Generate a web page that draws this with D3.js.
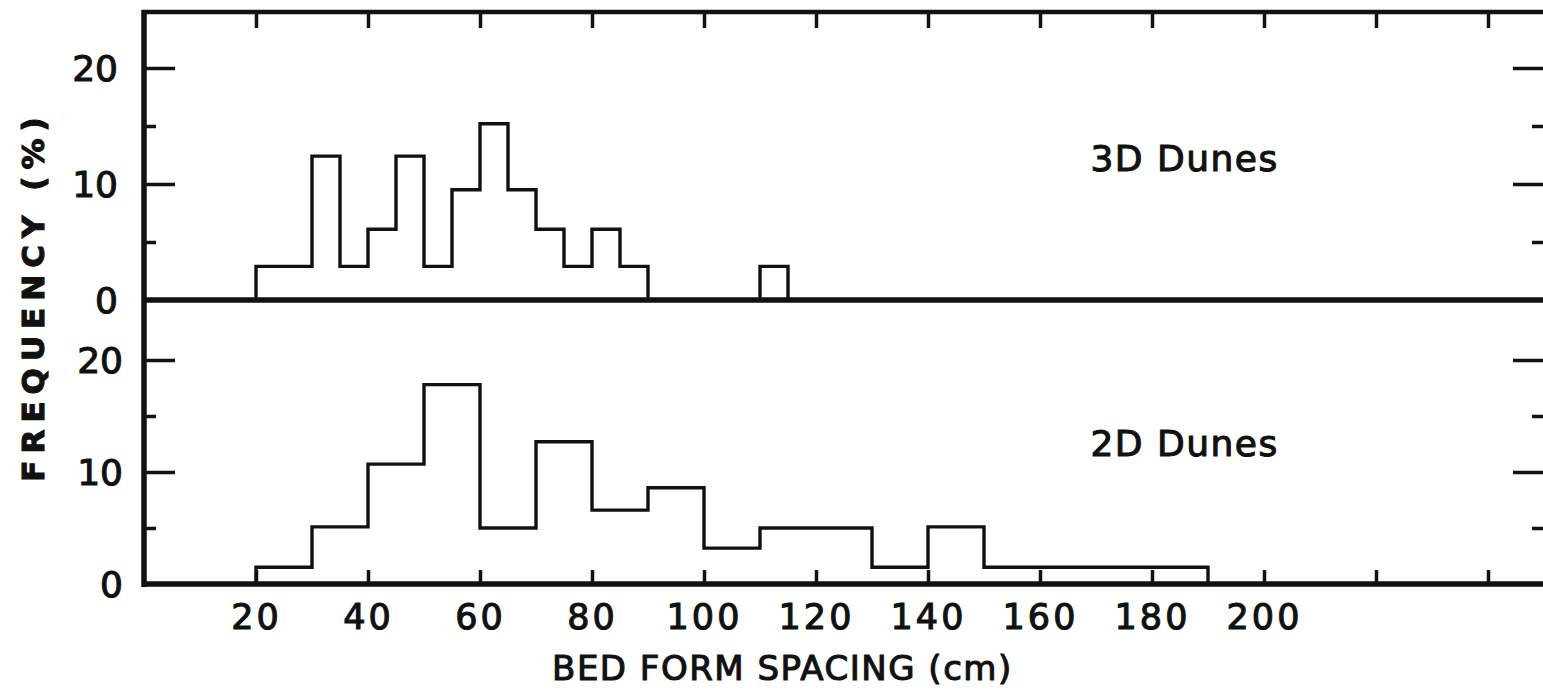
<!DOCTYPE html>
<html>
<head>
<meta charset="utf-8">
<script src="https://cdn.jsdelivr.net/npm/d3@7"></script>
<style>
  html, body { margin: 0; padding: 0; background: #fff; }
  svg { display: block; }
  text { font-family: "DejaVu Sans", sans-serif; fill: #111; stroke: #111; stroke-width: 1.1px; }
</style>
</head>
<body>
<svg id="chart" width="1543" height="700"></svg>
<script>
// ---- data ----
const xTickValues = [20, 40, 60, 80, 100, 120, 140, 160, 180, 200, 220, 240];
const xTickLabels = ["20", "40", "60", "80", "100", "120", "140", "160", "180", "200", "", ""];
const yMajorTicks = [0, 10, 20];
const yMinorTicks = [5, 15];

// 3D dunes: bin edges (cm) and frequency (%) per bin
const dunes3DEdges = [20, 30, 35, 40, 45, 50, 55, 60, 65, 70, 75, 80, 85, 90, 110, 115];
const dunes3DFreq  = [2.9, 12.4, 2.9, 6.1, 12.4, 2.9, 9.5, 15.2, 9.5, 6.1, 2.9, 6.1, 2.9, 0, 2.9];

// 2D dunes: bin edges (cm) and frequency (%) per bin
const dunes2DEdges = [20, 30, 40, 50, 60, 70, 80, 90, 100, 110, 130, 140, 150, 190];
const dunes2DFreq  = [1.5, 5.1, 10.7, 17.8, 5.0, 12.7, 6.6, 8.6, 3.2, 5.0, 1.5, 5.1, 1.5];

const panelLabels = ["3D Dunes", "2D Dunes"];
const xTitle = "BED FORM SPACING (cm)";
const yTitle = "FREQUENCY (%)";

// ---- layout ----
const svg = d3.select("#chart");
const ink = "#111";
const x = d3.scaleLinear().domain([0, 250]).range([144, 1544]);
const yTop = d3.scaleLinear().domain([0, 20]).range([300, 68]);
const yBot = d3.scaleLinear().domain([0, 20]).range([584, 360]);
const frameTop = 12, rightX = 1543;

// histogram outlines
function stepPoints(edges, vals) {
  const pts = [[edges[0], 0]];
  vals.forEach((v, i) => { pts.push([edges[i], v]); pts.push([edges[i + 1], v]); });
  pts.push([edges[edges.length - 1], 0]);
  return pts;
}
function drawHist(edges, vals, y) {
  const line = d3.line().x(d => x(d[0])).y(d => y(d[1]));
  svg.append("path").attr("d", line(stepPoints(edges, vals)))
    .attr("fill", "none").attr("stroke", ink).attr("stroke-width", 3.4)
    .attr("stroke-linejoin", "miter");
}
drawHist(dunes3DEdges, dunes3DFreq, yTop);
drawHist(dunes2DEdges, dunes2DFreq, yBot);

// frame lines
const frame = svg.append("g").attr("stroke", ink).attr("stroke-linecap", "butt");
frame.append("line").attr("x1", x(0) - 2).attr("x2", rightX).attr("y1", frameTop).attr("y2", frameTop).attr("stroke-width", 4.5);
frame.append("line").attr("x1", x(0)).attr("x2", x(0)).attr("y1", frameTop - 2).attr("y2", yBot(0) + 3).attr("stroke-width", 5.5);
frame.append("line").attr("x1", x(0) - 2).attr("x2", rightX).attr("y1", yTop(0)).attr("y2", yTop(0)).attr("stroke-width", 5.5);
frame.append("line").attr("x1", x(0) - 2).attr("x2", rightX).attr("y1", yBot(0)).attr("y2", yBot(0)).attr("stroke-width", 5.5);

function styleAxis(g, w) {
  g.select(".domain").remove();
  g.selectAll(".tick line").attr("stroke", ink).attr("stroke-width", w);
}

// left y axes
[yTop, yBot].forEach((y, i) => {
  const gMaj = svg.append("g").attr("transform", `translate(${x(0)},0)`)
    .call(d3.axisLeft(y).tickValues(yMajorTicks).tickSizeInner(-31).tickSizeOuter(0).tickPadding(i === 0 ? 26 : 21).tickFormat(d3.format("d")));
  styleAxis(gMaj, 3.5);
  gMaj.selectAll(".tick text").attr("font-size", 36).attr("fill", ink).attr("dy", "0.36em");
  gMaj.selectAll(".tick").filter(d => d === 0).select("line").remove();
  const gMin = svg.append("g").attr("transform", `translate(${x(0)},0)`)
    .call(d3.axisLeft(y).tickValues(yMinorTicks).tickSizeInner(-12).tickSizeOuter(0).tickFormat(""));
  styleAxis(gMin, 3.5);
  // right side ticks
  const rMaj = svg.append("g").attr("transform", `translate(${rightX},0)`)
    .call(d3.axisRight(y).tickValues([10, 20]).tickSizeInner(-30).tickSizeOuter(0).tickFormat(""));
  styleAxis(rMaj, 3.5);
  const rMin = svg.append("g").attr("transform", `translate(${rightX},0)`)
    .call(d3.axisRight(y).tickValues(yMinorTicks).tickSizeInner(-11).tickSizeOuter(0).tickFormat(""));
  styleAxis(rMin, 3.5);
});

// top x ticks (hanging from top frame)
const gTop = svg.append("g").attr("transform", `translate(0,${frameTop})`)
  .call(d3.axisTop(x).tickValues(xTickValues).tickSizeInner(-16).tickSizeOuter(0).tickFormat(""));
styleAxis(gTop, 3.5);

// bottom x axis
const gBot = svg.append("g").attr("transform", `translate(0,${yBot(0)})`)
  .call(d3.axisBottom(x).tickValues(xTickValues).tickSizeInner(-14).tickSizeOuter(0).tickPadding(20)
    .tickFormat((d, i) => xTickLabels[i]));
styleAxis(gBot, 3.5);
gBot.selectAll(".tick text").attr("font-size", 35).attr("fill", ink).attr("letter-spacing", 3);

// panel labels
svg.append("text").attr("x", x(169)).attr("y", yTop(11.1)).attr("font-size", 36)
  .attr("letter-spacing", 1.5).text(panelLabels[0]);
svg.append("text").attr("x", x(169)).attr("y", yBot(11.4)).attr("font-size", 36)
  .attr("letter-spacing", 1.5).text(panelLabels[1]);

// axis titles
svg.append("text").attr("x", x(114)).attr("y", 680).attr("text-anchor", "middle")
  .attr("font-size", 34).attr("letter-spacing", 1.5).text(xTitle);
svg.append("text").attr("transform", `translate(44,${yTop(0) - 4}) rotate(-90)`)
  .attr("text-anchor", "middle").attr("font-size", 31).attr("font-weight", "bold")
  .attr("stroke-width", 0.6).attr("letter-spacing", 7).text(yTitle);
</script>
</body>
</html>
